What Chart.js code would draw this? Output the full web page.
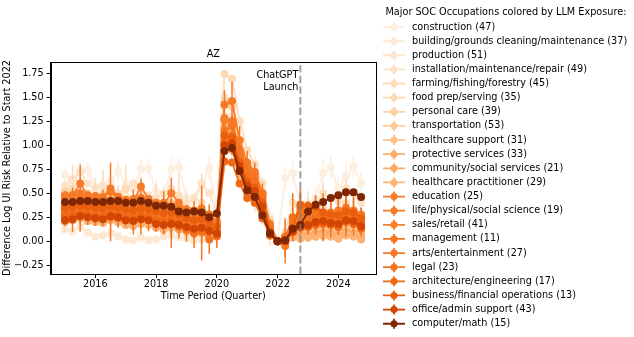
<!DOCTYPE html>
<html>
<head>
<meta charset="utf-8">
<script src="https://cdn.jsdelivr.net/npm/chart.js@4.4.1/dist/chart.umd.min.js"></script>
<style>
  html, body { margin: 0; padding: 0; background: #fff; }
</style>
</head>
<body>
<canvas id="myChart1" width="634" height="337"></canvas>
<script>
(() => {
    'use strict'

    // quarters, 2015Q1 .. 2024Q4
    const quarters = [
        2015, 2015.25, 2015.5, 2015.75, 2016, 2016.25, 2016.5, 2016.75,
        2017, 2017.25, 2017.5, 2017.75, 2018, 2018.25, 2018.5, 2018.75,
        2019, 2019.25, 2019.5, 2019.75, 2020, 2020.25, 2020.5, 2020.75,
        2021, 2021.25, 2021.5, 2021.75, 2022, 2022.25, 2022.5, 2022.75,
        2023, 2023.25, 2023.5, 2023.75, 2024, 2024.25, 2024.5, 2024.75
    ]

    const labels = [
        'construction (47)', 'building/grounds cleaning/maintenance (37)', 'production (51)',
        'installation/maintenance/repair (49)', 'farming/fishing/forestry (45)', 'food prep/serving (35)',
        'personal care (39)', 'transportation (53)', 'healthcare support (31)', 'protective services (33)',
        'community/social services (21)', 'healthcare practitioner (29)', 'education (25)',
        'life/physical/social science (19)', 'sales/retail (41)', 'management (11)',
        'arts/entertainment (27)', 'legal (23)', 'architecture/engineering (17)',
        'business/financial operations (13)', 'office/admin support (43)', 'computer/math (15)'
    ]

    const colors = [
        '#feeede', '#fee8d2', '#fee5cc', '#fee2c6', '#fddcba', '#fdd9b4', '#fdd0a1', '#fdcb98',
        '#fdc28b', '#fdae6b', '#fda863', '#fdb375', '#f77b29', '#f67925', '#f77e2a', '#f57622',
        '#f67824', '#f4731f', '#f06714', '#ea5f0e', '#d34502', '#7f2704'
    ]

    const construction = [0.69,0.58,0.73,0.74,0.57,0.55,0.62,0.73,0.60,0.55,0.75,0.76,0.52,0.48,0.75,0.77,0.45,0.42,0.58,0.76,
        0.35,1.40,1.30,0.95,0.75,0.78,0.55,0.25,0,0.66,0.71,0.35,0.40,0.45,0.71,0.77,0.55,0.67,0.78,0.60]
    const building = [0.12,0.10,0.16,0.09,0.05,0.06,0.09,0.05,0.02,0.01,0.04,0.01,0.02,0.05,0.06,0.04,0.03,0.01,0.02,0.03,
        0.08,1.20,1.15,0.80,0.55,0.50,0.40,0.15,0,-0.02,0.15,0.10,0.05,0.08,0.05,0.10,0.04,0.08,0.06,0.05]
    const production = [0.45,0.47,0.44,0.46,0.43,0.40,0.44,0.42,0.38,0.36,0.40,0.38,0.33,0.30,0.34,0.28,0.22,0.20,0.25,0.18,
        0.20,1.30,1.25,0.90,0.65,0.55,0.38,0.12,0,0.02,0.12,0.18,0.15,0.20,0.22,0.20,0.18,0.24,0.22,0.15]
    const installation = [0.58,0.65,0.72,0.60,0.55,0.58,0.52,0.50,0.55,0.60,0.52,0.48,0.45,0.50,0.55,0.48,0.40,0.45,0.60,0.50,
        0.30,1.50,1.45,1.05,0.80,0.72,0.48,0.20,0,0.10,0.40,0.30,0.32,0.38,0.50,0.45,0.42,0.55,0.50,0.40]
    const farming = [0.30,0.55,0.40,0.35,0.45,0.50,0.30,0.40,0.55,0.35,0.45,0.30,0.40,0.25,0.35,0.45,0.30,0.25,0.40,0.20,
        0.15,1.00,1.10,0.85,0.60,0.50,0.35,0.10,0,0.05,0.20,0.15,0.30,0.20,0.35,0.25,0.30,0.40,0.25,0.20]
    const foodPrep = [0.35,0.36,0.38,0.37,0.35,0.36,0.38,0.36,0.34,0.33,0.36,0.34,0.32,0.30,0.32,0.30,0.26,0.25,0.27,0.22,
        0.25,1.74,1.69,1.25,0.95,0.80,0.60,0.22,0,0.05,0.15,0.12,0.15,0.18,0.20,0.18,0.16,0.20,0.18,0.14]
    const personalCare = [0.52,0.50,0.48,0.50,0.47,0.48,0.46,0.48,0.44,0.42,0.44,0.43,0.40,0.38,0.40,0.38,0.34,0.32,0.30,0.28,
        0.22,1.45,1.40,1.00,0.75,0.68,0.45,0.15,0,0.03,0.12,0.10,0.12,0.15,0.16,0.14,0.12,0.18,0.15,0.10]
    const transportation = [0.28,0.30,0.29,0.31,0.28,0.27,0.29,0.28,0.26,0.25,0.27,0.26,0.24,0.22,0.23,0.22,0.20,0.18,0.19,0.16,
        0.12,1.10,1.05,0.80,0.58,0.50,0.35,0.12,0,0.00,0.08,0.08,0.10,0.12,0.14,0.12,0.10,0.15,0.13,0.09]
    const healthSupport = [0.48,0.46,0.50,0.47,0.45,0.44,0.47,0.45,0.42,0.40,0.43,0.41,0.38,0.36,0.40,0.36,0.30,0.28,0.32,0.26,
        0.18,1.25,1.20,0.88,0.66,0.60,0.42,0.16,0,0.02,0.10,0.12,0.08,0.10,0.12,0.10,0.08,0.12,0.10,0.06]
    const protective = [0.20,0.22,0.24,0.21,0.20,0.19,0.22,0.20,0.17,0.16,0.18,0.17,0.14,0.12,0.14,0.12,0.10,0.08,0.09,0.06,
        0.06,0.95,0.95,0.70,0.50,0.45,0.30,0.10,0,-0.03,0.05,0.03,0.04,0.05,0.06,0.05,0.03,0.06,0.05,0.02]
    const community = [0.33,0.35,0.36,0.34,0.33,0.32,0.35,0.33,0.30,0.29,0.31,0.30,0.27,0.25,0.27,0.25,0.21,0.20,0.22,0.18,
        0.14,1.18,1.15,0.85,0.62,0.55,0.38,0.12,0,0.01,0.08,0.06,0.06,0.08,0.09,0.08,0.06,0.10,0.08,0.05]
    const healthPract = [0.22,0.24,0.25,0.23,0.22,0.21,0.24,0.22,0.19,0.18,0.20,0.19,0.16,0.14,0.16,0.14,0.11,0.10,0.12,0.08,
        0.06,1.00,0.98,0.72,0.52,0.46,0.30,0.08,0,-0.02,0.04,0.03,0.04,0.05,0.06,0.05,0.03,0.07,0.06,0.03]
    const education = [0.48,0.47,0.60,0.48,0.47,0.45,0.55,0.46,0.43,0.42,0.57,0.44,0.40,0.38,0.50,0.40,0.33,0.30,0.34,0.28,
        0.20,1.28,1.25,0.95,0.78,0.70,0.50,0.18,0,0.05,0.20,0.28,0.25,0.27,0.30,0.28,0.26,0.30,0.32,0.28]
    const lifeScience = [0.46,0.48,0.50,0.45,0.44,0.46,0.52,0.44,0.42,0.44,0.40,0.42,0.38,0.40,0.36,0.34,0.30,0.32,0.28,0.26,
        0.18,1.42,1.46,1.05,0.82,0.72,0.50,0.15,0,-0.05,0.18,0.35,0.30,0.33,0.28,0.30,0.32,0.35,0.30,0.25]
    const sales = [0.38,0.39,0.40,0.39,0.38,0.37,0.39,0.38,0.36,0.35,0.37,0.36,0.34,0.32,0.33,0.31,0.27,0.25,0.26,0.22,
        0.17,1.26,1.22,0.90,0.70,0.62,0.45,0.14,0,0.02,0.14,0.18,0.18,0.22,0.24,0.22,0.20,0.24,0.22,0.18]
    const management = [0.30,0.31,0.33,0.31,0.30,0.29,0.31,0.30,0.28,0.27,0.29,0.28,0.25,0.24,0.25,0.22,0.19,0.17,0.18,0.14,
        0.10,1.05,1.02,0.78,0.60,0.55,0.38,0.12,0,0.00,0.12,0.15,0.15,0.18,0.20,0.18,0.17,0.21,0.20,0.15]
    const arts = [0.34,0.33,0.44,0.35,0.33,0.32,0.40,0.33,0.30,0.30,0.45,0.31,0.27,0.25,0.36,0.26,0.20,0.18,0.22,0.12,
        0.10,1.15,1.20,0.90,0.72,0.66,0.48,0.15,0,0.03,0.16,0.22,0.20,0.24,0.25,0.23,0.22,0.26,0.24,0.20]
    const legal = [0.26,0.25,0.30,0.27,0.26,0.28,0.25,0.24,0.26,0.22,0.27,0.23,0.20,0.22,0.18,0.15,0.12,0.08,0.10,0.02,
        0.05,1.02,1.10,0.85,0.66,0.62,0.46,0.12,0,0.04,0.25,0.30,0.22,0.27,0.25,0.22,0.25,0.30,0.26,0.20]
    const architecture = [0.27,0.28,0.29,0.28,0.27,0.26,0.28,0.27,0.25,0.24,0.26,0.25,0.22,0.20,0.21,0.19,0.15,0.13,0.14,0.10,
        0.07,0.83,0.82,0.60,0.45,0.40,0.24,0.06,0,0.01,0.10,0.14,0.15,0.17,0.18,0.17,0.15,0.20,0.18,0.13]
    const business = [0.35,0.36,0.37,0.36,0.35,0.34,0.36,0.35,0.33,0.32,0.34,0.33,0.31,0.29,0.30,0.28,0.24,0.22,0.23,0.19,
        0.15,1.10,1.08,0.82,0.62,0.56,0.40,0.10,0,0.01,0.14,0.38,0.37,0.36,0.30,0.28,0.27,0.31,0.30,0.24]
    const officeAdmin = [0.22,0.23,0.26,0.25,0.24,0.23,0.26,0.25,0.22,0.21,0.23,0.22,0.18,0.17,0.18,0.17,0.15,0.13,0.14,0.11,
        0.08,1.00,1.02,0.78,0.58,0.52,0.36,0.09,0,0.00,0.10,0.15,0.17,0.20,0.21,0.19,0.18,0.22,0.21,0.16]
    const computerMath = [0.41,0.41,0.42,0.42,0.41,0.41,0.42,0.42,0.40,0.40,0.42,0.40,0.37,0.37,0.36,0.31,0.30,0.31,0.30,0.25,
        0.29,0.94,0.97,0.73,0.53,0.46,0.27,0.08,0,0.01,0.13,0.17,0.31,0.38,0.41,0.45,0.48,0.51,0.51,0.46]

    const values = [construction, building, production, installation, farming, foodPrep, personalCare,
        transportation, healthSupport, protective, community, healthPract, education, lifeScience, sales,
        management, arts, legal, architecture, business, officeAdmin, computerMath]

    // error bar half widths (only the series where the bars show)
    const errConstruction = [0.08,0.10,0.10,0.08,0.10,0.12,0.10,0.10,0.10,0.12,0.10,0.10,0.12,0.10,0.12,0.10,0.12,0.10,0.12,0.12,
        0.10,0.25,0.25,0.15,0.12,0.12,0.12,0.10,0,0.12,0.12,0.12,0.12,0.12,0.15,0.12,0.12,0.15,0.12,0.12]
    const errFarming = [0.20,0.25,0.20,0.18,0.20,0.25,0.20,0.18,0.25,0.20,0.22,0.20,0.20,0.18,0.22,0.25,0.20,0.20,0.30,0.20,
        0.20,0.30,0.30,0.25,0.20,0.20,0.18,0.15,0,0.15,0.20,0.18,0.22,0.20,0.25,0.22,0.22,0.25,0.22,0.20]
    const errLife = [0.06,0.08,0.30,0.06,0.05,0.08,0.30,0.06,0.05,0.10,0.25,0.06,0.05,0.12,0.30,0.08,0.08,0.10,0.30,0.12,
        0.10,0.15,0.20,0.15,0.12,0.10,0.10,0.08,0,0.18,0.15,0.20,0.12,0.15,0.18,0.15,0.12,0.20,0.15,0.10]
    const errLegal = [0.10,0.15,0.20,0.10,0.10,0.12,0.25,0.10,0.10,0.15,0.20,0.12,0.10,0.15,0.25,0.12,0.12,0.15,0.30,0.15,
        0.12,0.20,0.20,0.15,0.15,0.12,0.10,0.10,0,0.20,0.25,0.22,0.15,0.20,0.25,0.18,0.18,0.25,0.20,0.15]
    const errorBars = { 0: errConstruction, 4: errFarming, 13: errLife, 17: errLegal }

    const xTicks = [2016, 2018, 2020, 2022, 2024]
    const yTicks = [-0.25, 0, 0.25, 0.5, 0.75, 1.0, 1.25, 1.5, 1.75]
    const yTickLabels = ['\u22120.25', '0.00', '0.25', '0.50', '0.75', '1.00', '1.25', '1.50', '1.75']
    const chatgptDate = 2022.75

    const FONT = "'DejaVu Sans', sans-serif"
    const FS = 9.7

    const datasets = values.map((vals, i) => ({
        label: labels[i],
        data: vals.map((v, j) => ({ x: quarters[j], y: v })),
        borderColor: colors[i],
        backgroundColor: colors[i],
        pointBackgroundColor: colors[i],
        pointBorderWidth: 0,
        pointRadius: 4,
        borderWidth: 1.8,
        tension: 0,
        order: values.length - i
    }))

    const decor = {
        id: 'decor',
        beforeDatasetDraw(chart, args) {
            const err = errorBars[args.index]
            if (!err) return
            const ds = chart.data.datasets[args.index]
            const xs = chart.scales.x, ys = chart.scales.y
            const c = chart.ctx
            const a = chart.chartArea
            c.save()
            c.beginPath()
            c.rect(a.left, a.top, a.right - a.left, a.bottom - a.top)
            c.clip()
            c.strokeStyle = ds.borderColor
            c.lineWidth = 1.5
            c.beginPath()
            ds.data.forEach((p, j) => {
                if (!err[j]) return
                const px = xs.getPixelForValue(p.x)
                c.moveTo(px, ys.getPixelForValue(p.y - err[j]))
                c.lineTo(px, ys.getPixelForValue(p.y + err[j]))
            })
            c.stroke()
            c.restore()
        },
        afterDatasetsDraw(chart) {
            const c = chart.ctx
            const a = chart.chartArea
            const px = chart.scales.x.getPixelForValue(chatgptDate)
            c.save()
            c.strokeStyle = 'rgba(128,128,128,0.75)'
            c.lineWidth = 2
            c.setLineDash([7.4, 3.2])
            c.beginPath()
            c.moveTo(px, a.bottom)
            c.lineTo(px, a.top)
            c.stroke()
            c.setLineDash([])
            c.fillStyle = '#000'
            c.font = FS + 'px ' + FONT
            c.textAlign = 'right'
            c.textBaseline = 'middle'
            c.fillText('ChatGPT', px - 2, 75.5)
            c.fillText('Launch', px - 2, 87.5)
            c.restore()
        },
        afterDraw(chart) {
            const c = chart.ctx
            const a = chart.chartArea
            c.save()
            // frame
            c.strokeStyle = '#000'
            c.lineWidth = 1
            c.strokeRect(Math.round(a.left) + 0.5, Math.round(a.top) + 0.5,
                Math.round(a.right - a.left), Math.round(a.bottom - a.top))
            // panel title
            c.fillStyle = '#000'
            c.font = FS + 'px ' + FONT
            c.textAlign = 'center'
            c.textBaseline = 'middle'
            c.fillText('AZ', (a.left + a.right) / 2, 54.5)
            // legend
            c.textAlign = 'left'
            c.fillText('Major SOC Occupations colored by LLM Exposure:', 385.5, 12)
            chart.data.datasets.forEach((ds, i) => {
                const y = 27 + i * 14.13
                c.strokeStyle = ds.borderColor
                c.fillStyle = ds.borderColor
                c.lineWidth = 1.8
                c.beginPath()
                c.moveTo(383, y)
                c.lineTo(405, y)
                c.moveTo(394, y - 5)
                c.lineTo(394, y + 5)
                c.stroke()
                c.beginPath()
                c.arc(394, y, 3.5, 0, Math.PI * 2)
                c.fill()
                c.fillStyle = '#000'
                c.fillText(ds.label, 412, y)
            })
            c.restore()
        }
    }

    const ctx = document.getElementById('myChart1')
    const myChart = new Chart(ctx, {
        type: 'line',
        data: { datasets: datasets },
        plugins: [decor],
        options: {
            responsive: false,
            animation: false,
            devicePixelRatio: 1,
            layout: { padding: { left: 0, top: 62, right: 258, bottom: 32 } },
            plugins: {
                legend: { display: false },
                tooltip: { enabled: false },
                title: { display: false }
            },
            scales: {
                x: {
                    type: 'linear',
                    min: 2014.53,
                    max: 2025.24,
                    afterBuildTicks: (s) => { s.ticks = xTicks.map(v => ({ value: v })) },
                    afterFit: (s) => { s.height = 31 },
                    ticks: {
                        color: '#000',
                        font: { family: FONT, size: FS },
                        padding: 1,
                        maxRotation: 0,
                        callback: (v) => String(v)
                    },
                    grid: { drawOnChartArea: false, drawTicks: true, tickLength: 4, color: '#000' },
                    border: { color: '#000' },
                    title: {
                        display: true,
                        text: 'Time Period (Quarter)',
                        color: '#000',
                        font: { family: FONT, size: FS },
                        padding: { top: 0, bottom: 3 }
                    }
                },
                y: {
                    min: -0.34,
                    max: 1.865,
                    afterBuildTicks: (s) => { s.ticks = yTicks.map(v => ({ value: v })) },
                    afterFit: (s) => { s.width = 50.7 },
                    ticks: {
                        color: '#000',
                        font: { family: FONT, size: FS },
                        padding: 3,
                        callback: (v) => yTickLabels[yTicks.indexOf(v)]
                    },
                    grid: { drawOnChartArea: false, drawTicks: true, tickLength: 4, color: '#000' },
                    border: { color: '#000' },
                    title: {
                        display: true,
                        text: 'Difference Log UI Risk Relative to Start 2022',
                        color: '#000',
                        font: { family: FONT, size: FS },
                        padding: { top: 2, bottom: 0 }
                    }
                }
            }
        }
    })
})()
</script>
</body>
</html>
